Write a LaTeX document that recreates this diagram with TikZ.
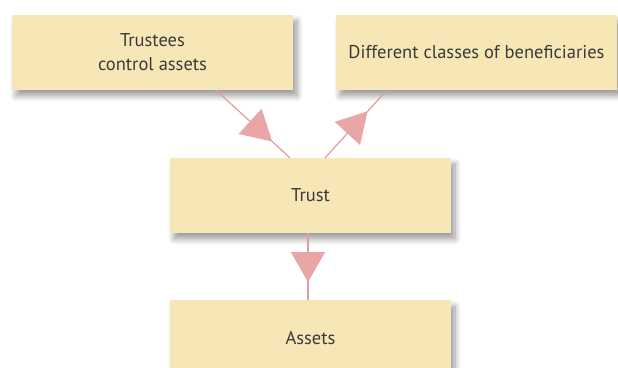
\documentclass[tikz,border=0pt]{standalone}
\usepackage{fontspec}
\setmainfont{PT Sans}
\usetikzlibrary{positioning,arrows.meta,decorations.markings,shadows.blur}
\definecolor{boxfill}{HTML}{F7E6B6}
\definecolor{textgray}{HTML}{3A3A3A}
\definecolor{linkred}{HTML}{E39C9C}
\definecolor{headred}{HTML}{E8A6A6}
\tikzset{x=1pt,y=1pt,
    trustbox/.style={fill=boxfill, text=textgray, align=center,
        minimum width=281pt, minimum height=75pt, inner sep=0pt,
        font=\fontsize{18.5}{24}\selectfont,
        blur shadow={shadow xshift=4pt, shadow yshift=-6pt, shadow opacity=40, shadow blur radius=6pt, shadow blur steps=10}},
    link/.style={draw=linkred, line width=1.2pt,
        postaction={decorate},
        decoration={markings, mark=at position #1 with {\arrow[fill=headred, draw=headred]{Triangle[length=30pt,width=34pt]}}}},
    }
\begin{document}
\begin{tikzpicture}
\useasboundingbox (0,0) rectangle (618,367);
\node[trustbox] (trust) at (310.5,171.5) {Trust};
\node[trustbox] (trustees) at (152.5,314.5) {Trustees\\control assets};
\node[trustbox] (classes) at (476.5,314.5) {Different classes of beneficiaries};
\node[trustbox, below=67pt of trust] (assets) {Assets};
% connectors
\draw[link=0.76] ([xshift=63.5pt]trustees.south) -- ([xshift=-20.5pt]trust.north);
\draw[link=0.69] ([xshift=14.5pt]trust.north) -- ([xshift=-89.5pt]classes.south);
\draw[link=0.73] ([xshift=-2.5pt]trust.south) -- ([xshift=-2.5pt]assets.north);
\end{tikzpicture}
\end{document}
